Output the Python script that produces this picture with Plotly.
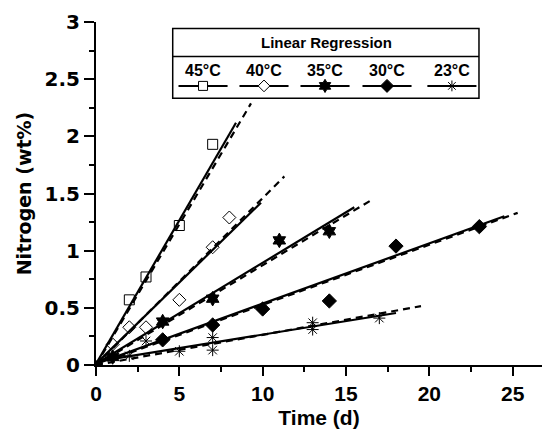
import plotly.graph_objects as go

# ---------------- data ----------------
series_names = ["45°C", "40°C", "35°C", "30°C", "23°C"]

t45 = [2, 3, 5, 7]
n45 = [0.57, 0.77, 1.22, 1.93]

t40 = [1, 2, 3, 5, 7, 8]
n40 = [0.18, 0.33, 0.33, 0.57, 1.03, 1.29]

t35 = [1, 4, 7, 11, 14]
n35 = [0.07, 0.38, 0.58, 1.09, 1.17]

t30 = [4, 7, 10, 14, 18, 23]
n30 = [0.22, 0.35, 0.49, 0.56, 1.04, 1.21]

t23 = [2, 3, 5, 7, 7, 13, 13, 17]
n23 = [0.08, 0.21, 0.12, 0.13, 0.24, 0.31, 0.37, 0.41]

# regression lines: intercept, slope, end time (solid and dashed fits)
solid_b = [0.01, 0.01, 0.01, 0.01, 0.03]
solid_m = [0.251, 0.1424, 0.0884, 0.0527, 0.0236]
solid_end = [8.4, 9.9, 15.5, 24.5, 18.0]

dash_b = [0.0, 0.0, 0.0, 0.0, 0.0]
dash_m = [0.246, 0.146, 0.0873, 0.0526, 0.0264]
dash_end = [9.3, 11.3, 16.5, 25.3, 19.5]

x_ticks = [0, 5, 10, 15, 20, 25]
y_ticks = [0, 0.5, 1, 1.5, 2, 2.5, 3]
y_tick_text = ["0", "0.5", "1", "1.5", "2", "2.5", "3"]

# ---------------- styles ----------------
symbols = ["square-open", "diamond-open", "hexagram", "diamond", "asterisk-open"]
legend_symbols = ["square", "diamond", "hexagram", "diamond", "asterisk-open"]
legend_fill = ["white", "white", "black", "black", "black"]
msizes = [10, 10, 11, 11, 10]
FONT = "Liberation Sans, Arial, sans-serif"
WIDE = "DejaVu Sans, Liberation Sans, sans-serif"

fig = go.Figure()

pts = [(t45, n45), (t40, n40), (t35, n35), (t30, n30), (t23, n23)]

for i in range(5):
    xe = solid_end[i]
    fig.add_trace(go.Scatter(
        x=[0, xe], y=[solid_b[i], solid_b[i] + solid_m[i] * xe],
        mode="lines", line=dict(color="black", width=2.2),
        showlegend=False, hoverinfo="skip"))
    xd = dash_end[i]
    fig.add_trace(go.Scatter(
        x=[0, xd], y=[dash_b[i], dash_b[i] + dash_m[i] * xd],
        mode="lines", line=dict(color="black", width=2.2, dash="7px,5px"),
        showlegend=False, hoverinfo="skip"))

for i, (tx, ny) in enumerate(pts):
    fig.add_trace(go.Scatter(
        x=tx, y=ny, mode="markers", name=series_names[i],
        marker=dict(symbol=symbols[i], size=msizes[i], color="black",
                    line=dict(color="black", width=1)),
        showlegend=False))

# ---------------- custom legend box (paper coords) ----------------
L, R, T, B, DIV = 0.172, 0.8587, 0.981, 0.778, 0.8996
centers = [0.240, 0.3767, 0.5135, 0.6525, 0.798]
half = 0.055
label_y = 0.860
line_y = 0.8137

shapes = [
    dict(type="rect", xref="paper", yref="paper", x0=L, x1=R, y0=B, y1=T,
         line=dict(color="black", width=1.5), fillcolor="white", layer="below"),
    dict(type="line", xref="paper", yref="paper", x0=L, x1=R, y0=DIV, y1=DIV,
         line=dict(color="black", width=1.5), layer="below"),
]
for c in centers:
    shapes.append(dict(type="line", xref="paper", yref="paper", x0=c - half, x1=c + half,
                       y0=line_y, y1=line_y, line=dict(color="black", width=2), layer="below"))

annotations = [dict(text="<b>Linear Regression</b>", xref="paper", yref="paper",
                    x=0.5157, y=0.939, xanchor="center", yanchor="middle", showarrow=False,
                    font=dict(family=FONT, size=15, color="black"))]
for c, nm in zip(centers, series_names):
    annotations.append(dict(text="<b>%s</b>" % nm, xref="paper", yref="paper",
                            x=c, y=label_y, xanchor="center", yanchor="middle", showarrow=False,
                            font=dict(family=FONT, size=16, color="black")))

for i, c in enumerate(centers):
    fig.add_trace(go.Scatter(
        x=[c], y=[line_y], xaxis="x2", yaxis="y2", mode="markers",
        marker=dict(symbol=legend_symbols[i], size=msizes[i] - 1,
                    color=legend_fill[i], line=dict(color="black", width=1)),
        showlegend=False, hoverinfo="skip"))

fig.update_layout(
    width=544, height=433,
    margin=dict(l=96, r=2, t=22, b=67.5),
    paper_bgcolor="white", plot_bgcolor="white",
    font=dict(family=FONT, color="black"),
    shapes=shapes, annotations=annotations,
    xaxis=dict(range=[0, 26.76], tickvals=x_ticks,
               ticktext=["<b>%d</b>" % v for v in x_ticks],
               ticks="outside", ticklen=9,
               tickwidth=2, tickcolor="black", showline=True, linewidth=2,
               linecolor="black", showgrid=False, zeroline=False,
               minor=dict(dtick=2.5, tick0=0, ticks="outside", ticklen=5, tickwidth=1.5,
                          tickcolor="black", showgrid=False),
               tickfont=dict(family=FONT, size=21, color="black"),
               title=dict(text="<b>Time (d)</b>", font=dict(family=FONT, size=21), standoff=6)),
    yaxis=dict(range=[0, 3], tickvals=y_ticks, ticktext=["<b>%s</b>" % s for s in y_tick_text],
               ticks="outside", ticklen=10, tickwidth=2, tickcolor="black",
               showline=True, linewidth=2, linecolor="black", showgrid=False, zeroline=False,
               minor=dict(dtick=0.25, tick0=0, ticks="outside", ticklen=5, tickwidth=1.5,
                          tickcolor="black", showgrid=False),
               tickfont=dict(family=WIDE, size=20, color="black"),
               title=dict(text="<b>Nitrogen (wt%)</b>", font=dict(family=WIDE, size=19), standoff=8)),
    xaxis2=dict(range=[0, 1], overlaying="x", visible=False, anchor="y2"),
    yaxis2=dict(range=[0, 1], overlaying="y", visible=False, anchor="x2"),
)

fig.write_html("out.html", config={"displayModeBar": False},
               post_script="document.body.style.margin='0';document.body.style.overflow='hidden';")
